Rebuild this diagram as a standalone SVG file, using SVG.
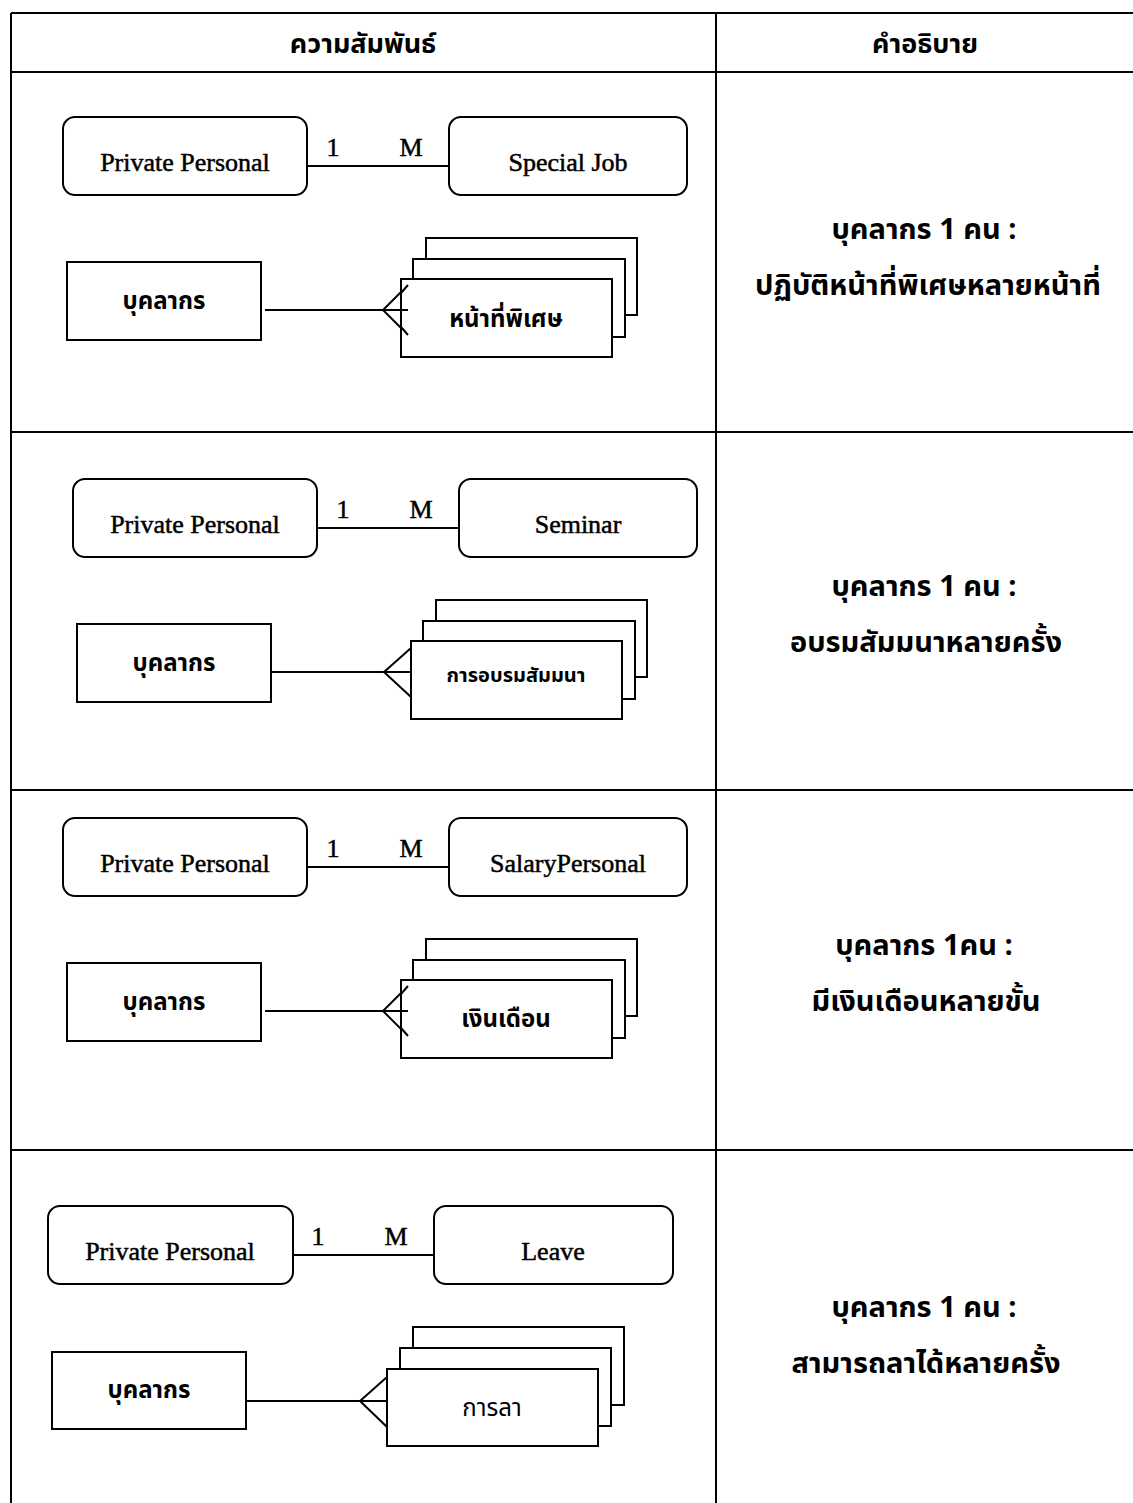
<svg xmlns="http://www.w3.org/2000/svg" width="1133" height="1503" viewBox="0 0 1133 1503">
<style>
.bg{fill:#fff}
.grid{stroke:#000;stroke-width:2;fill:none}
.ent{fill:#fff;stroke:#000;stroke-width:2}
.con{stroke:#000;stroke-width:2;fill:none}
.en{font-family:"Liberation Serif","Times New Roman",serif;font-size:26px;fill:#000;stroke:#000;stroke-width:0.5;text-anchor:middle}
.th{font-family:"Noto Sans Thai","Noto Serif Thai","Liberation Serif",serif;font-size:24px;font-weight:bold;fill:#000;text-anchor:middle}
.hd{font-family:"Noto Sans Thai","Noto Serif Thai","Liberation Serif",serif;font-size:27px;font-weight:bold;fill:#000;text-anchor:middle}
.ds{font-family:"Noto Sans Thai","Noto Serif Thai","Liberation Serif",serif;font-size:29px;font-weight:bold;fill:#000;text-anchor:middle}
</style>
<rect class="bg" x="0" y="0" width="1133" height="1503"/>
<g id="table">
<path class="grid" d="M11,13H1133M11,72H1133M11,432H1133M11,790H1133M11,1150H1133M11,13V1503M716,13V1503"/>
<text class="hd" x="363" y="53">ความสัมพันธ์</text>
<text class="hd" x="925" y="53">คำอธิบาย</text>
<text class="ds" x="924" y="239">บุคลากร 1 คน :</text>
<text class="ds" x="928" y="295">ปฏิบัติหน้าที่พิเศษหลายหน้าที่</text>
<text class="ds" x="924" y="596">บุคลากร 1 คน :</text>
<text class="ds" x="926" y="652">อบรมสัมมนาหลายครั้ง</text>
<text class="ds" x="924" y="955">บุคลากร 1คน :</text>
<text class="ds" x="926" y="1011">มีเงินเดือนหลายขั้น</text>
<text class="ds" x="924" y="1317">บุคลากร 1 คน :</text>
<text class="ds" x="926" y="1373">สามารถลาได้หลายครั้ง</text>
</g>
<g id="connectors">
<line class="con" x1="307" y1="166" x2="449" y2="166"/>
<text class="en" x="333" y="156">1</text><text class="en" x="411" y="156">M</text>
<path class="con" d="M265,310H408M408,285L383,310L408,335"/>
<line class="con" x1="317" y1="528" x2="459" y2="528"/>
<text class="en" x="343" y="518">1</text><text class="en" x="421" y="518">M</text>
<path class="con" d="M271,672H411M411,648L384,672L411,697"/>
<line class="con" x1="307" y1="867" x2="449" y2="867"/>
<text class="en" x="333" y="857">1</text><text class="en" x="411" y="857">M</text>
<path class="con" d="M265,1011H408M408,986L383,1011L408,1036"/>
<line class="con" x1="293" y1="1255" x2="434" y2="1255"/>
<text class="en" x="318" y="1245">1</text><text class="en" x="396" y="1245">M</text>
<path class="con" d="M246,1401H387M387,1377L360,1401L387,1427"/>
</g>
<g id="pp1"><rect class="ent" x="63" y="117" width="244" height="78" rx="12"/><text class="en" x="185" y="171">Private Personal</text></g>
<g id="specialjob"><rect class="ent" x="449" y="117" width="238" height="78" rx="12"/><text class="en" x="568" y="171">Special Job</text></g>
<g id="person1"><rect class="ent" x="67" y="262" width="194" height="78"/><text class="th" x="164" y="309">บุคลากร</text></g>
<g id="specialduty"><rect class="ent" x="426" y="238" width="211" height="77"/><rect class="ent" x="413" y="259" width="212" height="78"/><rect class="ent" x="401" y="279" width="211" height="78"/><path class="con" d="M401,310H408M401,293L408,285M401,327L408,335"/><text class="th" x="506" y="327">หน้าที่พิเศษ</text></g>
<g id="pp2"><rect class="ent" x="73" y="479" width="244" height="78" rx="12"/><text class="en" x="195" y="533">Private Personal</text></g>
<g id="seminar"><rect class="ent" x="459" y="479" width="238" height="78" rx="12"/><text class="en" x="578" y="533">Seminar</text></g>
<g id="person2"><rect class="ent" x="77" y="624" width="194" height="78"/><text class="th" x="174" y="671">บุคลากร</text></g>
<g id="training"><rect class="ent" x="436" y="600" width="211" height="77"/><rect class="ent" x="423" y="621" width="212" height="78"/><rect class="ent" x="411" y="641" width="211" height="78"/><text class="th" x="516" y="682" style="font-size:20px">การอบรมสัมมนา</text></g>
<g id="pp3"><rect class="ent" x="63" y="818" width="244" height="78" rx="12"/><text class="en" x="185" y="872">Private Personal</text></g>
<g id="salarypersonal"><rect class="ent" x="449" y="818" width="238" height="78" rx="12"/><text class="en" x="568" y="872">SalaryPersonal</text></g>
<g id="person3"><rect class="ent" x="67" y="963" width="194" height="78"/><text class="th" x="164" y="1010">บุคลากร</text></g>
<g id="salary"><rect class="ent" x="426" y="939" width="211" height="77"/><rect class="ent" x="413" y="960" width="212" height="78"/><rect class="ent" x="401" y="980" width="211" height="78"/><path class="con" d="M401,1011H408M401,994L408,986M401,1028L408,1036"/><text class="th" x="506" y="1027">เงินเดือน</text></g>
<g id="pp4"><rect class="ent" x="48" y="1206" width="245" height="78" rx="12"/><text class="en" x="170" y="1260">Private Personal</text></g>
<g id="leave"><rect class="ent" x="434" y="1206" width="239" height="78" rx="12"/><text class="en" x="553" y="1260">Leave</text></g>
<g id="person4"><rect class="ent" x="52" y="1352" width="194" height="77"/><text class="th" x="149" y="1398">บุคลากร</text></g>
<g id="leaverec"><rect class="ent" x="413" y="1327" width="211" height="78"/><rect class="ent" x="400" y="1348" width="211" height="78"/><rect class="ent" x="387" y="1369" width="211" height="77"/><text class="th" x="492" y="1416" style="font-weight:normal">การลา</text></g>
</svg>
